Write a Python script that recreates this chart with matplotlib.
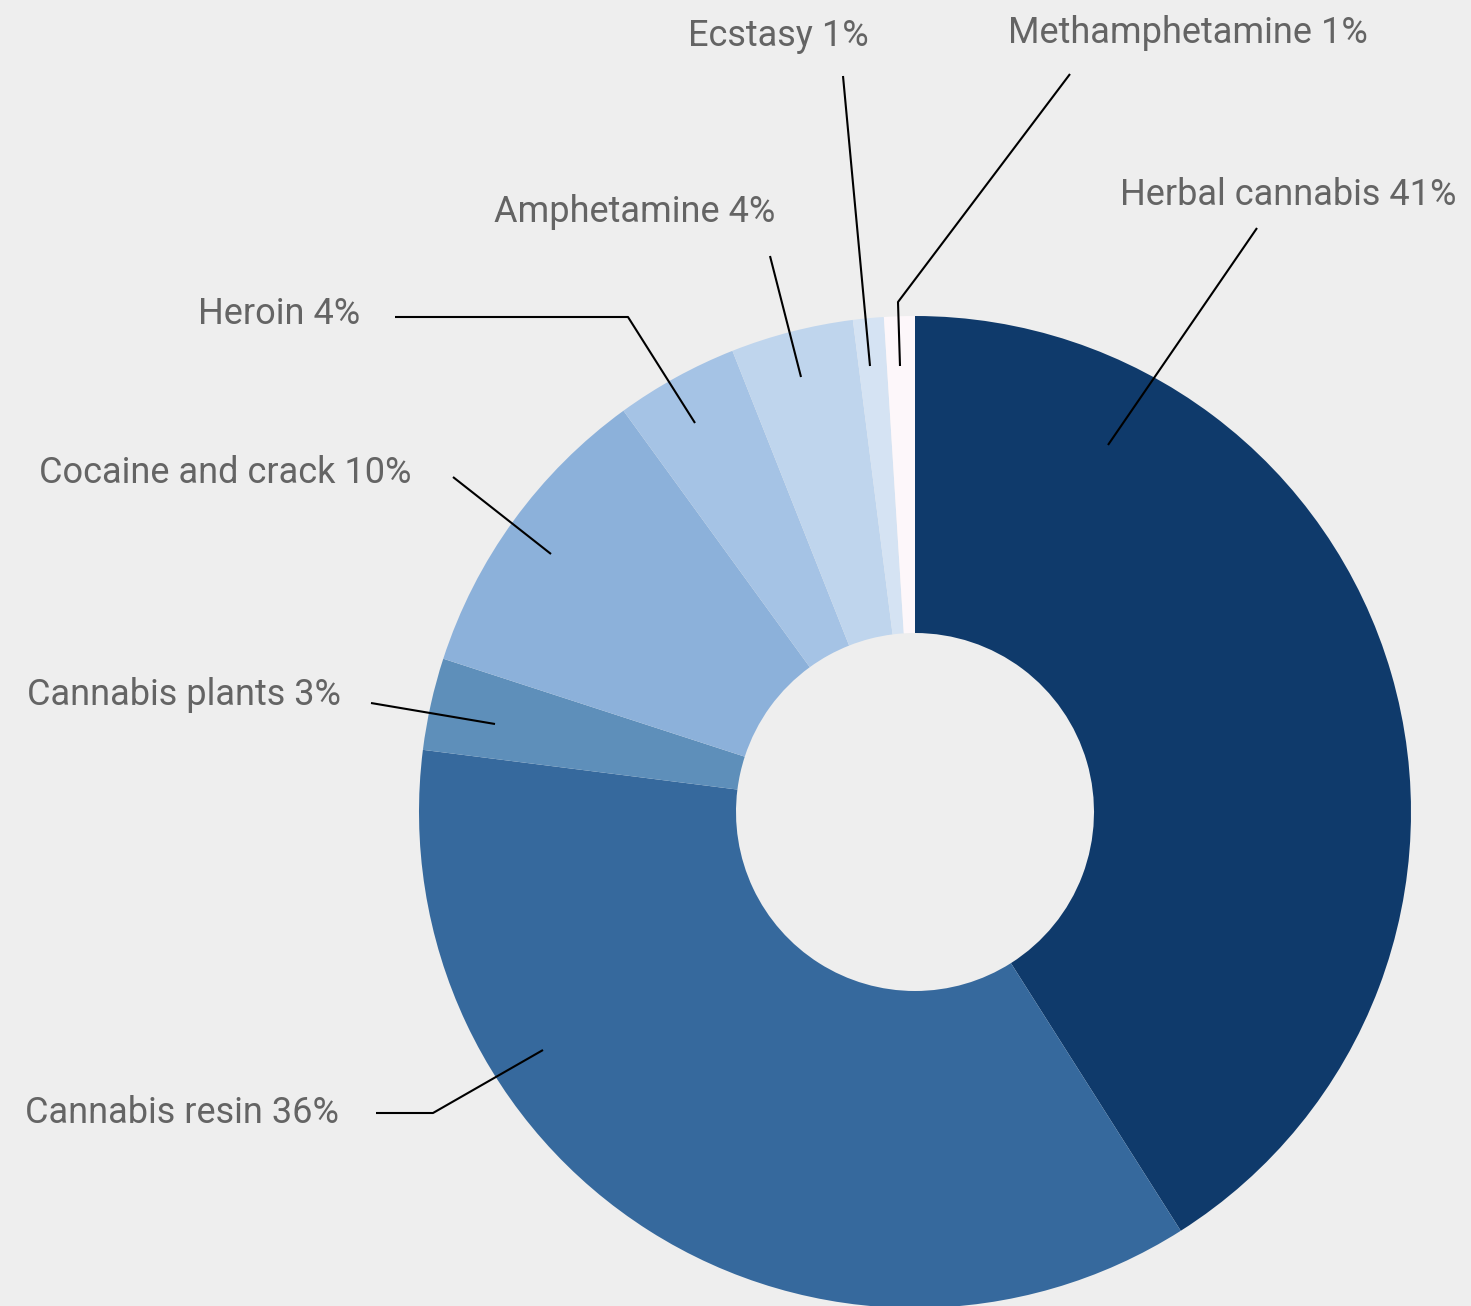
import matplotlib

matplotlib.use("Agg")
import matplotlib.pyplot as plt

# slices, clockwise from 12 o'clock
labels = ["Herbal cannabis", "Cannabis resin", "Cannabis plants", "Cocaine and crack",
          "Heroin", "Amphetamine", "Ecstasy", "Methamphetamine"]
shares = [41, 36, 3, 10, 4, 4, 1, 1]
colors = ["#0f3a6b", "#36699d", "#5e8fba", "#8cb1da",
          "#a5c3e5", "#bfd5ed", "#d5e3f3", "#fdf7fa"]

# label layout in pixels: text centre, then leader polyline (label end -> slice)
label_pos = [(1288, 195), (182, 1113), (184, 695), (225, 473),
             (279, 314), (635, 212), (778, 36), (1188, 33)]
leaders = [
    [(1257, 228), (1108, 445)],
    [(376, 1113), (433, 1113), (543, 1050)],
    [(371, 703), (495, 724)],
    [(453, 477), (551, 554)],
    [(395, 317), (628, 317), (695, 423)],
    [(770, 256), (801, 377)],
    [(843, 76), (870, 366)],
    [(1070, 74), (898, 302), (900, 366)],
]

W, H = 1471, 1306
CX, CY, R = 915, 812, 496
BG = "#eeeeee"


def px(x, y):
    return (x - CX) / R, (CY - y) / R


fig = plt.figure(figsize=(W / 100, H / 100), dpi=100, facecolor=BG)
ax = fig.add_axes([0, 0, 1, 1])
ax.set_facecolor(BG)

ax.pie(shares, colors=colors, startangle=90, counterclock=False, radius=1,
       wedgeprops=dict(width=(R - 179) / R, linewidth=0))

for name, val, (tx, ty), pts in zip(labels, shares, label_pos, leaders):
    x, y = px(tx, ty)
    ax.text(x, y, f"{name} {val}%", ha="center", va="center",
            fontsize=26, color="#646464", family="Roboto")
    xs, ys = zip(*[px(a, b) for a, b in pts])
    ax.plot(xs, ys, color="black", lw=1.5, solid_capstyle="butt")

ax.set_xlim(-CX / R, (W - CX) / R)
ax.set_ylim((CY - H) / R, CY / R)
ax.set_aspect("equal")
ax.axis("off")

fig.savefig("out.png", dpi=100, facecolor=BG)
